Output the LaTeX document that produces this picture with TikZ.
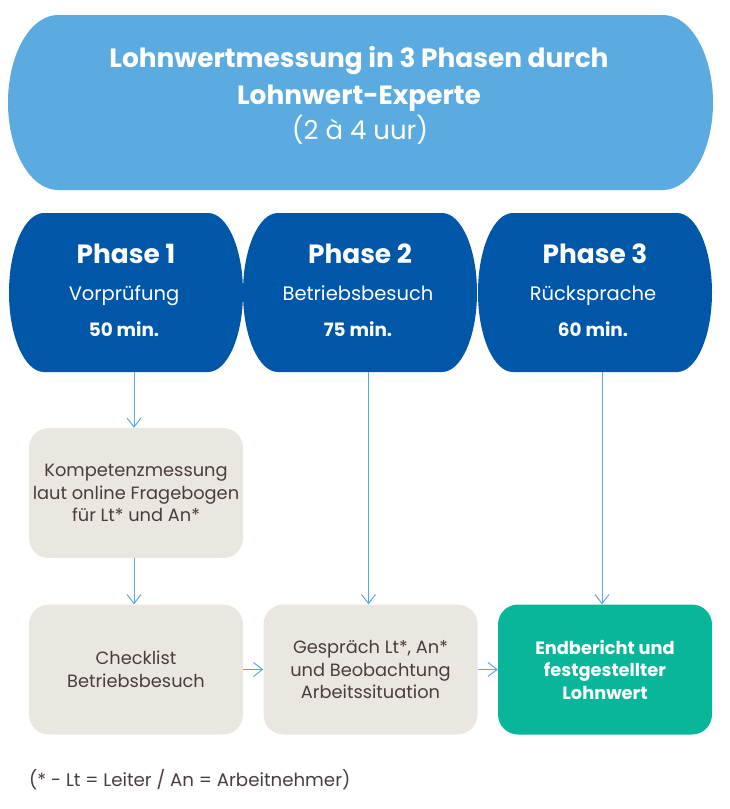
\documentclass[tikz,border=0pt]{standalone}
\usepackage{fontspec}
\setmainfont{Poppins}
\usetikzlibrary{arrows.meta}
\definecolor{banblue}{HTML}{5BABE1}
\definecolor{phblue}{HTML}{0057A8}
\definecolor{boxgray}{HTML}{EAE6E0}
\definecolor{teal}{HTML}{09B69A}
\definecolor{txtdark}{HTML}{4A3D3E}
\definecolor{arrblue}{HTML}{5BA8DD}
\tikzset{
  anchorbox/.style={inner sep=0pt, outer sep=0pt, minimum width=#1},
  graybox/.style={fill=boxgray, rounded corners=20pt, inner sep=0pt, minimum width=214pt, minimum height=130pt, align=center, text=txtdark, font=\fontsize{17.8}{22.5}\selectfont},
  endbox/.style={fill=teal, rounded corners=20pt, inner sep=0pt, minimum width=214pt, minimum height=130pt, align=center, text=white, font=\fontsize{17.8}{22.5}\selectfont\bfseries},
  arr/.style={draw=arrblue, line width=1pt, -{Straight Barb[length=9pt,width=14pt,line width=1pt]}},
  bantitle/.style={anchor=base, text=white, font=\fontsize{26.4}{30}\selectfont\bfseries, inner sep=0pt},
  phtitle/.style={anchor=base, text=white, font=\fontsize{26.4}{30}\selectfont\bfseries, inner sep=0pt},
  phsub/.style={anchor=base, text=white, font=\fontsize{19.5}{22}\selectfont, inner sep=0pt},
  phmin/.style={anchor=base, text=white, font=\fontsize{18.4}{22}\selectfont\bfseries, inner sep=0pt},
}
\begin{document}
\begin{tikzpicture}[x=1pt,y=-1pt]
\useasboundingbox (0,0) rectangle (729,809);
% banner
\fill[banblue] (58,15) -- (663,15) arc[start angle=-90,end angle=90,x radius=50,y radius=87.5] -- (58,190) arc[start angle=90,end angle=270,x radius=50,y radius=87.5] -- cycle;
\node[anchorbox=705pt, minimum height=175pt] (ban) at (360.5,102.5) {};
\node[bantitle] (b1) at (359,67) {Lohnwertmessung in 3 Phasen durch};
\node[bantitle] (b2) at (359,104) {Lohnwert-Experte};
\node[anchor=base, text=white, font=\fontsize{26}{30}\selectfont, inner sep=0pt] (b3) at (360,139) {(2 à 4 uur)};
% phases
\fill[phblue] (44,213) -- (208,213) arc[start angle=-90,end angle=90,x radius=35,y radius=79.5] -- (44,372) arc[start angle=90,end angle=270,x radius=35,y radius=79.5] -- cycle;
\fill[phblue] (278,213) -- (442,213) arc[start angle=-90,end angle=90,x radius=35,y radius=79.5] -- (278,372) arc[start angle=90,end angle=270,x radius=35,y radius=79.5] -- cycle;
\fill[phblue] (513,213) -- (677,213) arc[start angle=-90,end angle=90,x radius=35,y radius=79.5] -- (513,372) arc[start angle=90,end angle=270,x radius=35,y radius=79.5] -- cycle;
\node[anchorbox=234pt, minimum height=159pt] (p1) at (126,292.5) {};
\node[anchorbox=234pt, minimum height=159pt] (p2) at (360,292.5) {};
\node[anchorbox=234pt, minimum height=159pt] (p3) at (595,292.5) {};
\node[phtitle] (p1t) at (126,263) {Phase 1};
\node[phsub] (p1s) at (124,300) {Vorprüfung};
\node[phmin] (p1m) at (124,336) {50 min.};
\node[phtitle] (p2t) at (360,263) {Phase 2};
\node[phsub] (p2s) at (358,300) {Betriebsbesuch};
\node[phmin] (p2m) at (358,336) {75 min.};
\node[phtitle] (p3t) at (595,263) {Phase 3};
\node[phsub] (p3s) at (593,300) {Rücksprache};
\node[phmin] (p3m) at (593,336) {60 min.};
% lower boxes
\node[graybox] (k1) at (136,493) {Kompetenzmessung\\laut online Fragebogen\\für Lt* und An*};
\node[graybox] (c1) at (136,669.5) {Checklist\\Betriebsbesuch};
\node[graybox] (g2) at (370.5,669.5) {Gespräch Lt*, An*\\und Beobachtung\\Arbeitssituation};
\node[endbox] (e3) at (605,669.5) {Endbericht und\\festgestellter\\Lohnwert};
% arrows
\draw[arr] ([xshift=-2pt]k1.north |- p1.south) -- ([xshift=-2pt]k1.north);
\draw[arr] ([xshift=-2pt]k1.south) -- ([xshift=-2pt]c1.north);
\draw[arr] ([xshift=-2pt]g2.north |- p2.south) -- ([xshift=-2pt]g2.north);
\draw[arr] ([xshift=-3pt]e3.north |- p3.south) -- ([xshift=-3pt]e3.north);
\draw[arr] (c1.east) -- (g2.west);
\draw[arr] (g2.east) -- (e3.west);
% footnote
\node[anchor=base west, text=txtdark, font=\fontsize{18.2}{22}\selectfont, inner sep=0pt] (fn) at (29,786) {(* - Lt = Leiter / An = Arbeitnehmer)};
\end{tikzpicture}
\end{document}
